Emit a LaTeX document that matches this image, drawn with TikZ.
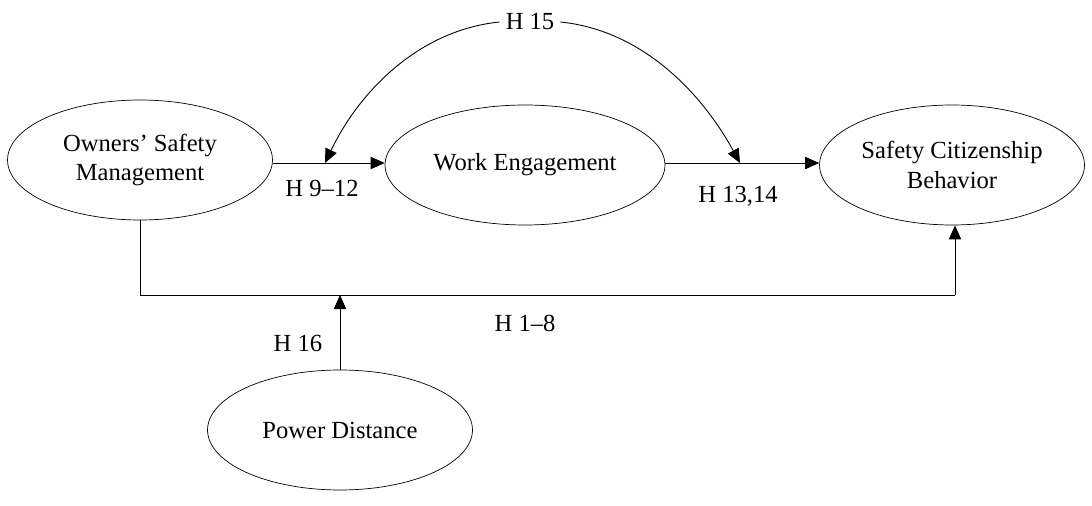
\documentclass[tikz,border=0pt]{standalone}
\usepackage{fontspec}
\setmainfont{Liberation Serif}
\usetikzlibrary{shapes.geometric,arrows.meta}
\begin{document}
\begin{tikzpicture}[x=0.02cm,y=-0.02cm,
  var/.style={draw,ellipse,minimum width=5.3cm,minimum height=2.4cm,inner sep=0pt,align=center,font=\fontsize{14}{17}\selectfont},
  lab/.style={font=\fontsize{14}{17}\selectfont},
  arr/.style={-{Triangle[length=8pt,width=7pt]},line width=0.5pt}]
\useasboundingbox (0,0) rectangle (1092,506);
\node[var] (osm) at (140,160) {Owners\symbol{39} Safety\\Management};
\node[var,minimum width=5.6cm] (we) at (525,165) {Work Engagement};
\node[var] (scb) at (952,165) {Safety Citizenship\\Behavior};
\node[var] (pd) at (340,430) {Power Distance};
\node[lab] (h15) at (530,22) {H 15};
\coordinate (a1) at (325,163);
\coordinate (a2) at (740,163);
\draw[arr] (osm.east |- 0,163) -- (we.west |- 0,163);
\draw[arr] (we.east |- 0,163) -- (scb.west |- 0,163);
\draw[arr] (h15.west) .. controls (420,30) and (360,90) .. (a1);
\draw[arr] (h15.east) .. controls (640,30) and (700,90) .. (a2);
\coordinate (c1) at (140,295);
\coordinate (c2) at (955,295);
\coordinate (c3) at (340,295);
\draw[line width=0.5pt] (osm.south) -- (c1) -- (c2);
\draw[arr] (c2) -- (scb.south -| c2);
\draw[arr] (pd.north) -- (c3);
\node[lab] (l1) at (322,188) {H 9–12};
\node[lab] (l2) at (738,196) {H 13,14};
\node[lab] (l3) at (525,323) {H 1–8};
\node[lab] (l4) at (298,343) {H 16};
\end{tikzpicture}
\end{document}
